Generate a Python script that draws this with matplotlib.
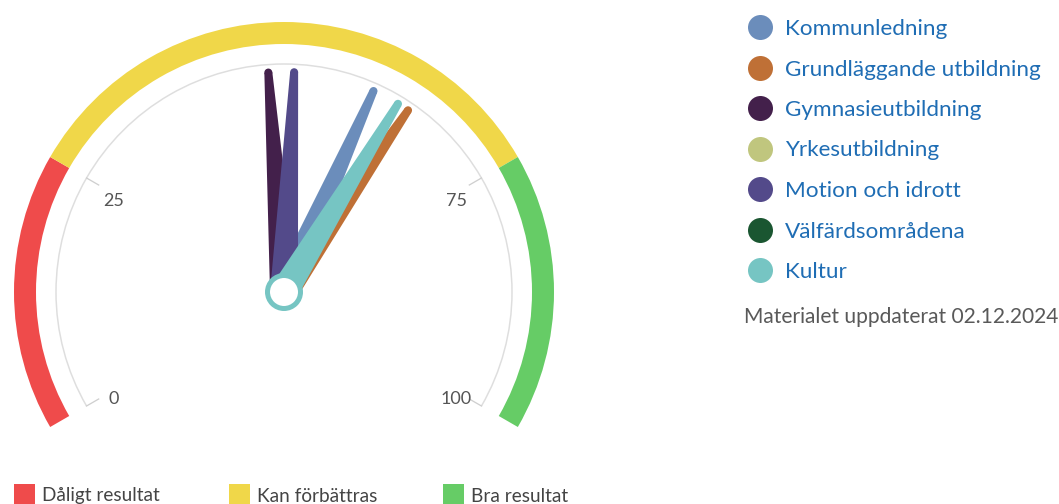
import numpy as np
import matplotlib
matplotlib.use("Agg")
import matplotlib.pyplot as plt
from matplotlib.patches import Wedge, Arc, Polygon, Circle, Rectangle

# ---------------- data ----------------
series_names = ["Kommunledning", "Grundläggande utbildning", "Gymnasieutbildning",
                "Yrkesutbildning", "Motion och idrott", "Välfärdsområdena", "Kultur"]
series_values = [60.0, 64.3, 48.3, None, 51.1, None, 63.0]
series_colors = ["#6b8dbb", "#bf7036", "#43204b", "#c0c67e", "#534a8a", "#1a5631", "#76c5c3"]

band_names = ["Dåligt resultat", "Kan förbättras", "Bra resultat"]
band_from = [0, 25, 75]
band_to = [25, 75, 100]
band_colors = ["#ef4b4b", "#f0d749", "#66cc66"]

tick_values = [0, 25, 75, 100]
tick_labels = ["0", "25", "75", "100"]
updated_text = "Materialet uppdaterat 02.12.2024"

# ---------------- layout ----------------
W, H = 1059, 504
fig = plt.figure(figsize=(W / 100, H / 100), dpi=100)
ax = fig.add_axes([0, 0, 1, 1])
ax.set_xlim(0, W)
ax.set_ylim(0, H)
ax.axis("off")

FONT = ["Lato", "DejaVu Sans"]
PX = 0.72  # points per pixel at 100 dpi

cx, cy = 284, H - 292
vmin, vmax = 0, 100
a_start, a_end = -120, 120


def val2ang(v):
    return a_start + (v - vmin) / (vmax - vmin) * (a_end - a_start)


def polar(r, a):
    t = np.radians(a)
    return cx + r * np.sin(t), cy + r * np.cos(t)


# bands
R_out, band_w = 270, 22
for f, t, c in zip(band_from, band_to, band_colors):
    a1, a2 = val2ang(f), val2ang(t)
    ax.add_patch(Wedge((cx, cy), R_out, 90 - a2, 90 - a1, width=band_w,
                       facecolor=c, edgecolor="none", zorder=2))

# grey axis circle
R_axis = 228
ax.add_patch(Arc((cx, cy), 2 * R_axis, 2 * R_axis, theta1=90 - a_end, theta2=90 - a_start,
                 color="#dedede", lw=1.5 * PX, zorder=1))

# ticks and labels
for v, lab in zip(tick_values, tick_labels):
    a = val2ang(v)
    x0, y0 = polar(R_axis, a)
    x1, y1 = polar(R_axis - 14, a)
    ax.plot([x0, x1], [y0, y1], color="#cfcfcf", lw=1.3 * PX, zorder=1)
    xl, yl = polar(198, a)
    ax.text(xl + 1, yl - 8, lab, ha="center", va="center", fontsize=18 * PX,
            color="#555555", family=FONT, zorder=3)

# needles
R_needle = 220
base_w, top_w = 28, 8
for v, c in zip(series_values, series_colors):
    if v is None:
        continue
    a = val2ang(v)
    t = np.radians(a)
    ux, uy = np.sin(t), np.cos(t)
    px, py = uy, -ux
    tipx, tipy = cx + R_needle * ux, cy + R_needle * uy
    pts = [(cx + px * base_w / 2, cy + py * base_w / 2),
           (tipx + px * top_w / 2, tipy + py * top_w / 2),
           (tipx - px * top_w / 2, tipy - py * top_w / 2),
           (cx - px * base_w / 2, cy - py * base_w / 2)]
    ax.add_patch(Polygon(pts, closed=True, facecolor=c, edgecolor="none", zorder=4))
    ax.add_patch(Circle((tipx, tipy), top_w / 2, facecolor=c, edgecolor="none", zorder=4))

# pivot
last_color = [c for v, c in zip(series_values, series_colors) if v is not None][-1]
ax.add_patch(Circle((cx, cy), 16.5, facecolor="white", edgecolor=last_color,
                    lw=5 * PX, zorder=5))

# right legend
for i, (name, c) in enumerate(zip(series_names, series_colors)):
    y = H - (27 + 40.5 * i)
    ax.plot([760], [y], marker="o", markersize=25 * PX, color=c, markeredgewidth=0, zorder=3)
    ax.text(785, y - 2, name, ha="left", va="center", fontsize=22.5 * PX, color="#1f6db4",
            family=FONT)
ax.text(744, H - 317, updated_text, ha="left", va="center", fontsize=21 * PX,
        color="#595959", family=FONT)

# bottom legend
leg_x = [14, 229, 443]
for x, name, c in zip(leg_x, band_names, band_colors):
    ax.add_patch(Rectangle((x, H - 505), 21, 21, facecolor=c, edgecolor="none"))
    ax.text(x + 28, H - 496, name, ha="left", va="center", fontsize=19 * PX,
            color="#444444", family=FONT)

fig.savefig("out.png", dpi=100)
